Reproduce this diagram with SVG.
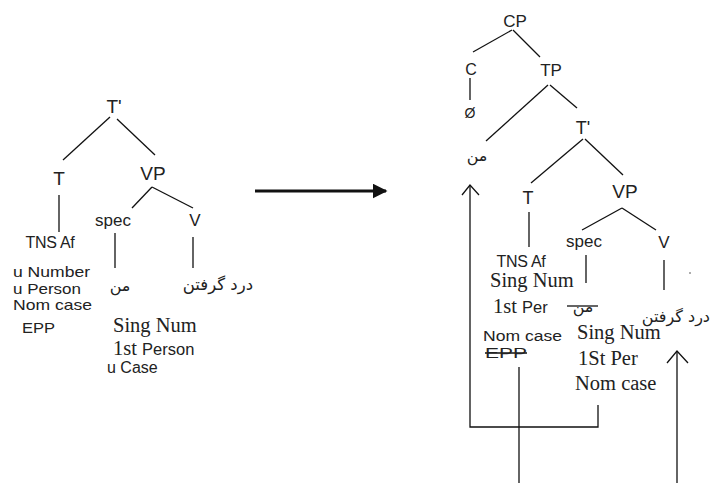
<svg xmlns="http://www.w3.org/2000/svg" width="711" height="483" viewBox="0 0 711 483">
<defs>
<style>
.s{font-family:"Liberation Sans",Arial,sans-serif;fill:#222}
.r{font-family:"Liberation Serif","Times New Roman",serif;fill:#222;font-size:20.5px}
.p{font-family:"DejaVu Sans",sans-serif;fill:#222}
.n{font-size:19px;text-anchor:middle}
.f{font-size:14.5px}
.sp{font-size:17px;text-anchor:middle}
.c line,.c polyline,.c path{stroke:#111;stroke-width:1.3;fill:none}
</style>
<marker id="ah" viewBox="0 0 10 10" refX="9" refY="5" markerWidth="5" markerHeight="5" orient="auto">
<path d="M0,0 L10,5 L0,10 z" fill="#111"/>
</marker>
</defs>
<rect width="711" height="483" fill="#fff"/>

<g class="c" id="connectors">
<line x1="110" y1="117" x2="63" y2="160"/>
<line x1="117" y1="119" x2="155" y2="155"/>
<line x1="59" y1="195" x2="59" y2="232"/>
<line x1="152" y1="187" x2="132" y2="208"/>
<line x1="152" y1="187" x2="193" y2="208"/>
<line x1="115" y1="233" x2="115" y2="268"/>
<line x1="193" y1="237" x2="193" y2="268"/>
<line x1="255" y1="191" x2="386" y2="191" style="stroke-width:3" marker-end="url(#ah)"/>
<line x1="512" y1="30" x2="473" y2="52"/>
<line x1="513" y1="30" x2="540" y2="57"/>
<line x1="470" y1="78" x2="470" y2="100"/>
<line x1="548" y1="85" x2="486" y2="141"/>
<line x1="550" y1="85" x2="577" y2="108"/>
<line x1="583" y1="139" x2="531" y2="183"/>
<line x1="585" y1="139" x2="623" y2="175"/>
<line x1="529" y1="212" x2="529" y2="247"/>
<line x1="622" y1="208" x2="582" y2="230"/>
<line x1="622" y1="208" x2="656" y2="230"/>
<line x1="586" y1="255" x2="586" y2="283"/>
<line x1="664" y1="260" x2="664" y2="290"/>
<polyline points="598,405 598,427 470,427 470,185"/>
<polyline points="462,195 470,185 479,195"/>
<line x1="519" y1="367" x2="519" y2="483"/>
<line x1="677" y1="483" x2="677" y2="351"/>
<polyline points="667,363 677,351 688,363"/>
<line x1="567" y1="306" x2="598" y2="306"/>
<line x1="485" y1="353" x2="527" y2="353"/>
</g>

<g id="left-tree">
<g id="lt-Tbar"><text class="s n" x="114" y="113">T'</text></g>
<g id="lt-T"><text class="s n" x="59" y="185">T</text></g>
<g id="lt-VP"><text class="s n" x="153" y="180">VP</text></g>
<g id="lt-spec"><text class="s sp" x="113" y="226">spec</text></g>
<g id="lt-V"><text class="s sp" x="195" y="226">V</text></g>
<g id="lt-TNS">
<text class="s" x="50" y="248" font-size="16" letter-spacing="-0.3" text-anchor="middle">TNS Af</text>
<text class="s f" x="13" y="277" textLength="77" lengthAdjust="spacingAndGlyphs">u Number</text>
<text class="s f" x="13" y="293.5" textLength="68" lengthAdjust="spacingAndGlyphs">u Person</text>
<text class="s f" x="13" y="310" textLength="79" lengthAdjust="spacingAndGlyphs">Nom case</text>
<text class="s f" x="22" y="333" textLength="33" lengthAdjust="spacingAndGlyphs">EPP</text>
</g>
<g id="lt-man">
<text class="p" x="120" y="291" font-size="16" text-anchor="middle">من</text>
<text class="r" x="113" y="332">Sing Num</text>
<text class="r" x="113" y="355">1st <tspan class="s" font-size="16.5">Person</tspan></text>
<text class="s" x="107" y="373" font-size="16">u Case</text>
</g>
<g id="lt-verb"><text class="p" x="253" y="290" font-size="16.5" text-anchor="end">درد گرفتن</text></g>
</g>

<g id="right-tree">
<g id="rt-CP"><text class="s" x="515" y="27" font-size="17" text-anchor="middle">CP</text></g>
<g id="rt-C"><text class="s" x="471" y="75" font-size="16" text-anchor="middle">C</text></g>
<g id="rt-null"><text class="s" x="470" y="118" font-size="14" text-anchor="middle">Ø</text></g>
<g id="rt-TP"><text class="s" x="551" y="76" font-size="17" text-anchor="middle">TP</text></g>
<g id="rt-man"><text class="p" x="477" y="161" font-size="16" text-anchor="middle">من</text></g>
<g id="rt-Tbar"><text class="s" x="583" y="134" font-size="18" text-anchor="middle">T'</text></g>
<g id="rt-T"><text class="s" x="528" y="204" font-size="18" text-anchor="middle">T</text></g>
<g id="rt-VP"><text class="s" x="625" y="198" font-size="19" text-anchor="middle">VP</text></g>
<g id="rt-spec"><text class="s sp" x="584" y="247">spec</text></g>
<g id="rt-V"><text class="s sp" x="664" y="248">V</text></g>
<g id="rt-TNS">
<text class="s" x="521" y="267" font-size="16" letter-spacing="-0.3" text-anchor="middle">TNS Af</text>
<text class="r" x="490" y="287">Sing Num</text>
<text class="r" x="493" y="313">1st <tspan class="s" font-size="16.5">Per</tspan></text>
<text class="s" x="483" y="341" font-size="15.5" textLength="79" lengthAdjust="spacingAndGlyphs">Nom case</text>
<text class="s" x="485" y="358" font-size="14" textLength="42" lengthAdjust="spacingAndGlyphs">EPP</text>
</g>
<g id="rt-spec-man">
<text class="p" x="583" y="312" font-size="16" text-anchor="middle">من</text>
<text class="r" x="577" y="339">Sing Num</text>
<text class="r" x="578" y="365">1St Per</text>
<text class="r" x="575" y="390">Nom case</text>
</g>
<g id="rt-verb"><text class="p" x="710" y="322" font-size="16" text-anchor="end">درد گرفتن</text></g>
<circle cx="690" cy="273" r="0.8" fill="#444"/>
</g>
</svg>
